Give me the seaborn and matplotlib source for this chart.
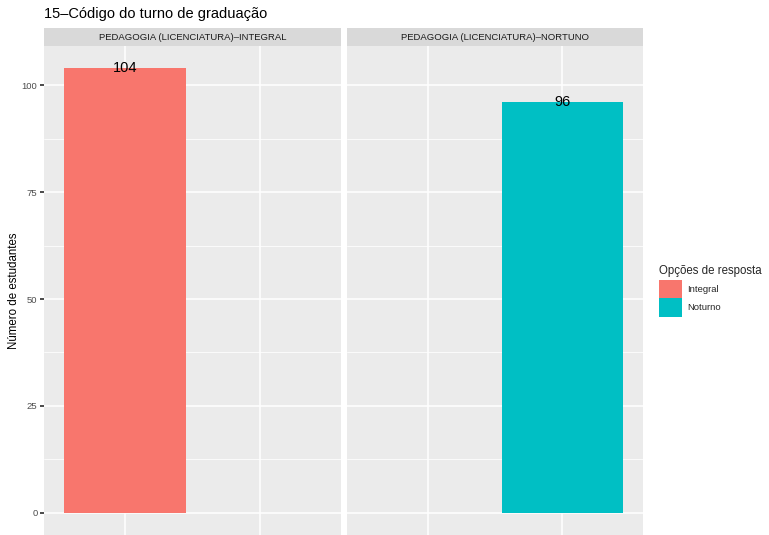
import matplotlib
matplotlib.use("Agg")
import matplotlib.pyplot as plt
import seaborn as sns
import pandas as pd
from matplotlib.patches import Patch

title = "15–Código do turno de graduação"
panels = ["PEDAGOGIA (LICENCIATURA)–INTEGRAL", "PEDAGOGIA (LICENCIATURA)–NORTUNO"]
categories = ["Integral", "Noturno"]
values = [104, 96]
colors = ["#F8766D", "#00BFC4"]
yticks = [0, 25, 50, 75, 100]

df = pd.DataFrame({"panel": panels, "cat": categories, "n": values})
pal = dict(zip(categories, colors))

sns.set_theme(style="darkgrid")
plt.rcParams["font.family"] = ["Liberation Sans", "DejaVu Sans"]

W, H = 769, 535
fig = plt.figure(figsize=(W / 100, H / 100), dpi=100)

def fx(px):
    return px / W

def fy(py):
    return 1 - py / H

panel_x = [(44, 341), (347, 643)]
top, bottom = 46, 535
strip_top = 28

for i, (pname, (x0, x1)) in enumerate(zip(panels, panel_x)):
    ax = fig.add_axes([fx(x0), fy(bottom), fx(x1 - x0), (bottom - top) / H])
    ax.set_facecolor("#EBEBEB")
    sub = df[df["panel"] == pname]
    sns.barplot(data=sub, x="cat", y="n", hue="cat", order=categories,
                hue_order=categories, palette=pal, width=0.9, ax=ax,
                legend=False, saturation=1, linewidth=0, dodge=False)
    for _, r in sub.iterrows():
        ax.text(categories.index(r["cat"]), r["n"], str(r["n"]),
                ha="center", va="center", fontsize=10.5, color="black")
    ax.set_xlim(-0.6, 1.6)
    ax.set_ylim(-5.2, 109.2)
    ax.set_yticks(yticks)
    ax.set_yticks([12.5, 37.5, 62.5, 87.5], minor=True)
    ax.set_xticks([0, 1])
    ax.set_xticklabels([])
    ax.grid(True, which="major", color="white", linewidth=1.1)
    ax.grid(True, which="minor", axis="y", color="white", linewidth=0.55)
    ax.set_axisbelow(True)
    for s in ax.spines.values():
        s.set_visible(False)
    ax.set_xlabel("")
    ax.tick_params(axis="x", length=0)
    if i == 0:
        ax.set_ylabel("Número de estudantes", fontsize=8.3, color="black", labelpad=1)
        ax.tick_params(axis="y", which="major", labelsize=6.8, labelcolor="#4D4D4D",
                       length=2.7, color="#333333", pad=2, left=True)
        ax.tick_params(axis="y", which="minor", length=0)
    else:
        ax.set_ylabel("")
        ax.set_yticklabels([])
        ax.tick_params(axis="y", which="both", length=0)
    # strip
    sax = fig.add_axes([fx(x0), fy(top), fx(x1 - x0), (top - strip_top) / H])
    sax.set_facecolor("#D9D9D9")
    sax.set_xticks([]); sax.set_yticks([])
    for s in sax.spines.values():
        s.set_visible(False)
    sax.grid(False)
    sax.text(0.5, 0.5, pname, ha="center", va="center", fontsize=6.8,
             color="#1A1A1A", transform=sax.transAxes)

fig.text(fx(44), fy(14), title, fontsize=10.5, ha="left", va="center", color="black")

handles = [Patch(facecolor=c, edgecolor="none", label=l) for c, l in zip(colors, categories)]
leg = fig.legend(handles=handles, title="Opções de resposta", loc="upper left",
                 bbox_to_anchor=(fx(656), fy(262)), frameon=False, fontsize=6.8,
                 title_fontsize=8.3, handlelength=2.4, handleheight=2.6,
                 handletextpad=0.6, labelspacing=0.05, borderaxespad=0,
                 borderpad=0.3)
leg._legend_box.align = "left"
leg._legend_box.sep = 2

fig.savefig("out.png", dpi=100)
